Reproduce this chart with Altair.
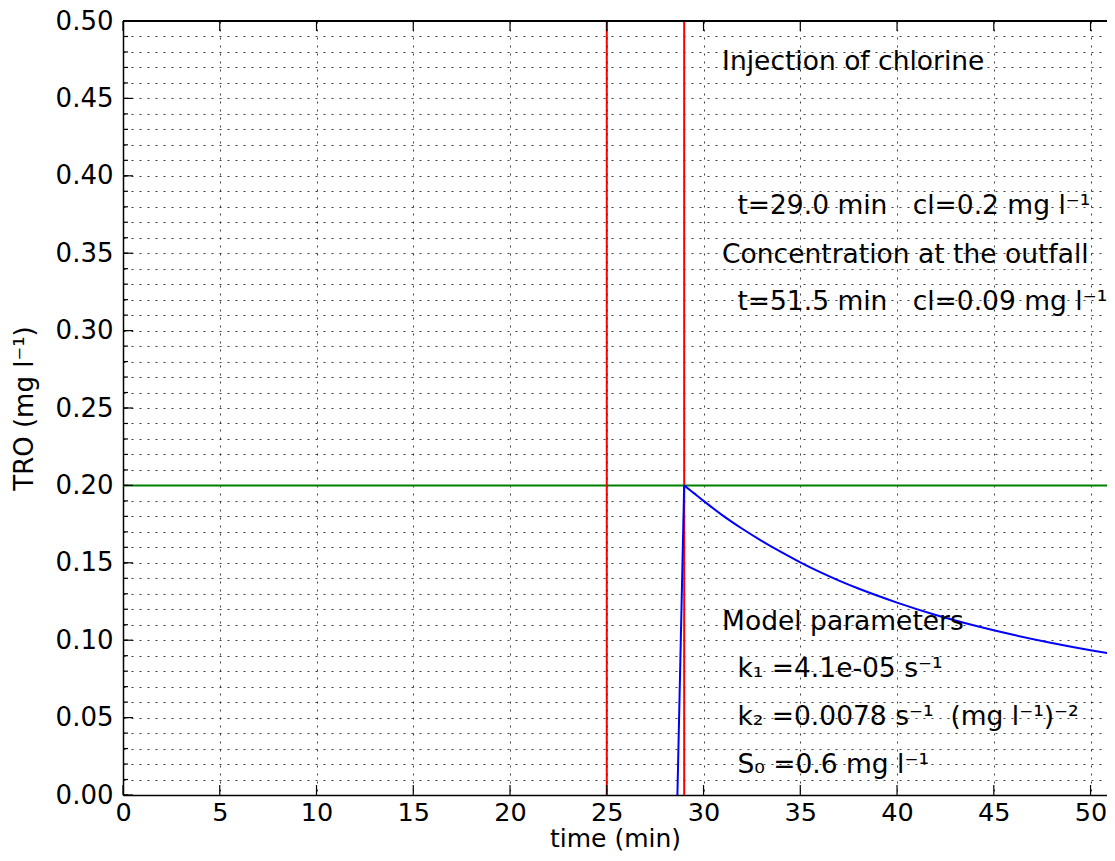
import altair as alt
import pandas as pd

# ---- data ----
rise_t = [28.65, 29.0]
rise_c = [0.0, 0.200]
decay_t = [29.0, 29.5, 30, 31, 32, 33, 34, 35, 36, 37, 38, 39, 40, 42, 44, 46, 48, 50, 51.5]
decay_c = [0.200, 0.195, 0.190, 0.1805, 0.1720, 0.1642, 0.1570, 0.1503, 0.1441, 0.1385,
           0.1334, 0.1287, 0.1243, 0.1163, 0.1095, 0.1035, 0.0982, 0.0935, 0.0903]

red_x = [25, 29]
green_y = [0.2]

x_ticks = [0, 5, 10, 15, 20, 25, 30, 35, 40, 45, 50]
y_major = [0.0, 0.05, 0.10, 0.15, 0.20, 0.25, 0.30, 0.35, 0.40, 0.45, 0.50]
y_all = [round(i * 0.01, 2) for i in range(51)]

NB = "\u00a0"
ann_x = [30.96, 31.75, 30.96, 31.75, 30.96, 31.75, 31.75, 31.75]
ann_y = [0.4682, 0.3755, 0.3439, 0.3135, 0.1065, 0.0761, 0.0452, 0.0144]
ann_text = [
    "Injection of chlorine",
    f"t=29.0 min{NB}{NB}{NB}cl=0.2 mg l⁻¹",
    "Concentration at the outfall",
    f"t=51.5 min{NB}{NB}{NB}cl=0.09 mg l⁻¹",
    "Model parameters",
    f"k₁{NB}=4.1e-05 s⁻¹",
    f"k₂{NB}=0.0078 s⁻¹{NB}{NB}(mg l⁻¹)⁻²",
    f"S₀{NB}=0.6 mg l⁻¹",
]

W, H = 984, 774
FONT = "DejaVu Sans"

rise_df = pd.DataFrame({"t": rise_t, "c": rise_c})
decay_df = pd.DataFrame({"t": decay_t, "c": decay_c})
red_df = pd.DataFrame({"t": red_x})
green_df = pd.DataFrame({"c": green_y})
ann_df = pd.DataFrame({"t": ann_x, "c": ann_y, "label": ann_text})
ymaj_df = pd.DataFrame({"c": y_major})
yall_df = pd.DataFrame({"c": y_all})
xt_df = pd.DataFrame({"t": x_ticks})

xscale = alt.Scale(domain=[0, 50.85], nice=False, zero=False)
yscale = alt.Scale(domain=[0, 0.5], nice=False, zero=False)

xaxis = alt.Axis(
    values=x_ticks, format="d", grid=True, gridDash=[2, 6], gridColor="black",
    gridOpacity=0.75, gridWidth=1, ticks=False, labelPadding=5, labelFontSize=25.5,
    labelColor="black", labelFlush=False, labelOverlap=False,
    title="time (min)", titleFontSize=25, titleFontWeight="normal", titleColor="black",
    titlePadding=1, domainColor="black", domainWidth=1.5,
)
yaxis = alt.Axis(
    values=y_all, labelExpr="round(datum.value*100) % 5 == 0 ? format(datum.value, '.2f') : ''",
    grid=True, gridDash=[2, 6], gridColor="black", gridOpacity=0.75, gridWidth=1,
    ticks=False, labelPadding=10, labelFontSize=26, labelColor="black",
    labelOverlap=False, labelBound=False,
    title="TRO (mg l⁻¹)", titleFontSize=26, titleFontWeight="normal", titleColor="black",
    titlePadding=18, domainColor="black", domainWidth=1.5,
)


def X(field="t"):
    return alt.X(f"{field}:Q", scale=xscale, axis=xaxis)


def Y(field="c"):
    return alt.Y(f"{field}:Q", scale=yscale, axis=yaxis)


minor_ticks = alt.Chart(yall_df).mark_rule(color="black", strokeWidth=1.2).encode(
    y=Y(), x=alt.value(0), x2=alt.value(5)
)
maj_ticks = alt.Chart(ymaj_df).mark_rule(color="black", strokeWidth=1.2).encode(
    y=Y(), x=alt.value(0), x2=alt.value(10)
)
xt_bottom = alt.Chart(xt_df).mark_rule(color="black", strokeWidth=1.2).encode(
    x=X(), y=alt.value(H), y2=alt.value(H - 10)
)
xt_top = alt.Chart(xt_df).mark_rule(color="black", strokeWidth=1.2).encode(
    x=X(), y=alt.value(0), y2=alt.value(10)
)
top_spine = alt.Chart(xt_df).mark_rule(color="black", strokeWidth=1.5).encode(
    y=alt.value(0), x=alt.value(0), x2=alt.value(W)
)

green = alt.Chart(green_df).mark_rule(color="#008000", strokeWidth=2).encode(y=Y())
red = alt.Chart(red_df).mark_rule(color="#ff0000", strokeWidth=2).encode(x=X())
rise = alt.Chart(rise_df).mark_line(color="#0000ff", strokeWidth=2, clip=True).encode(
    x=X(), y=Y(), order="t:Q"
)
decay = alt.Chart(decay_df).mark_line(
    color="#0000ff", strokeWidth=2, clip=True, interpolate="monotone"
).encode(x=X(), y=Y(), order="t:Q")
text = alt.Chart(ann_df).mark_text(
    align="left", baseline="alphabetic", font=FONT, fontSize=26.5, color="black"
).encode(x=X(), y=Y(), text="label:N")

chart = alt.layer(
    green, red, rise, decay, minor_ticks, maj_ticks, xt_bottom, xt_top, top_spine, text
).properties(
    width=W, height=H, autosize="none",
    padding={"left": 115, "top": 13, "right": 0, "bottom": 57},
).configure_view(stroke=None).configure_axis(
    labelFont=FONT, titleFont=FONT
)

chart.save("out.html", embed_options={"renderer": "svg", "actions": False})
